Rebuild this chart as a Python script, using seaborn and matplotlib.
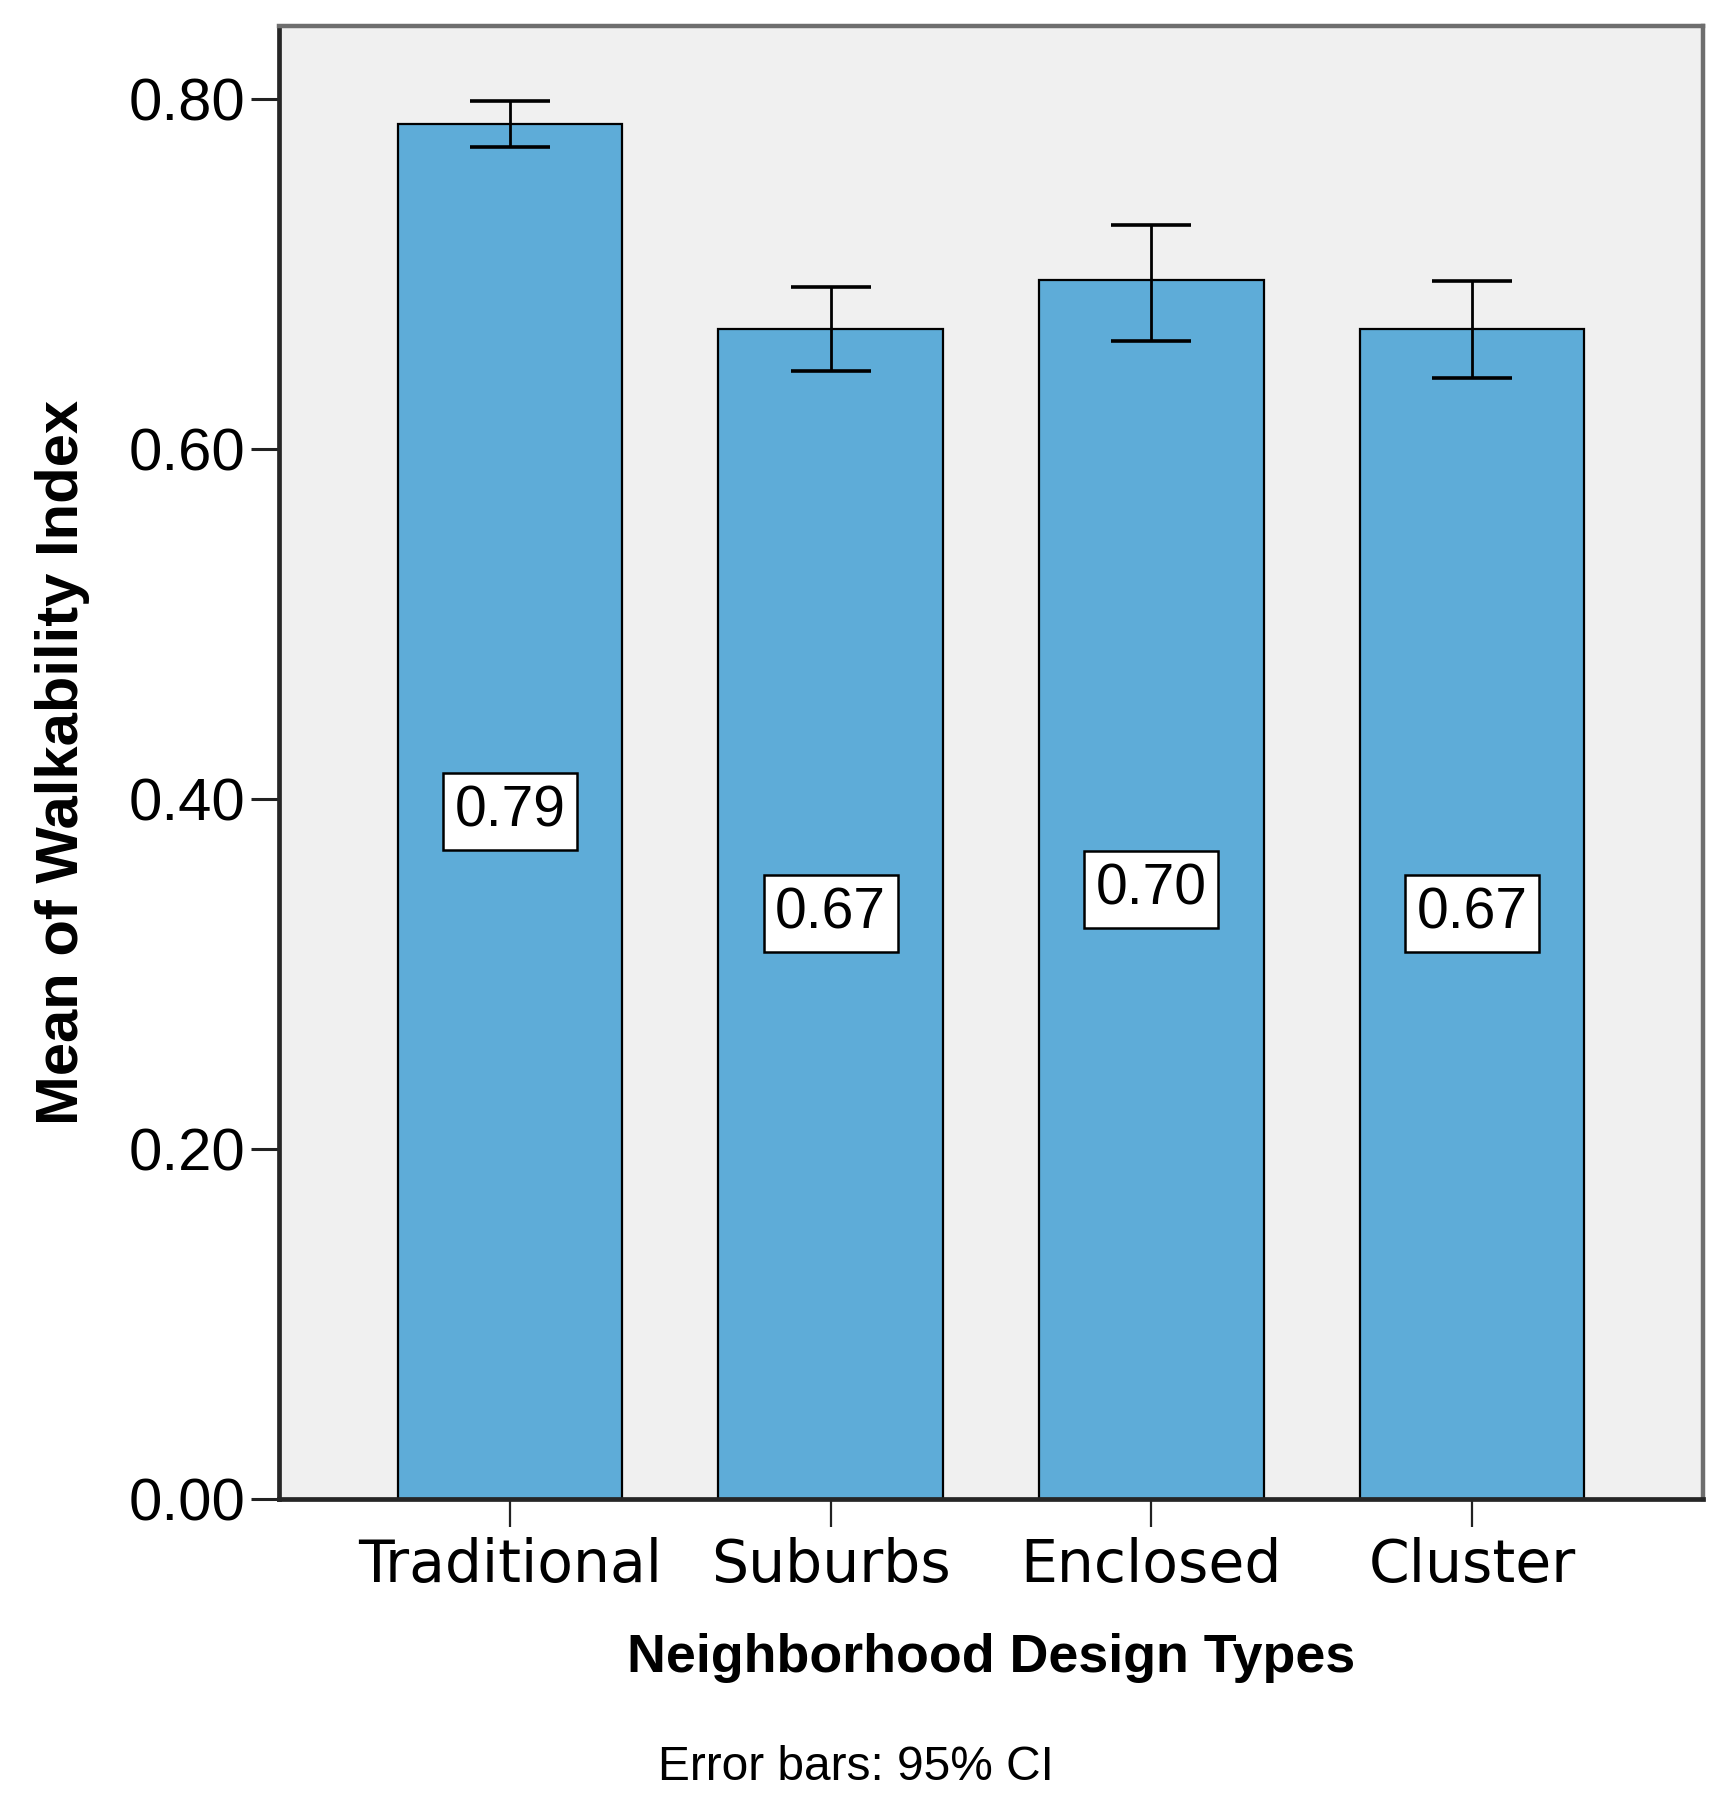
import matplotlib
matplotlib.use("Agg")
import matplotlib.pyplot as plt
import seaborn as sns
import numpy as np
import pandas as pd

# ---- data ----
categories = ["Traditional", "Suburbs", "Enclosed", "Cluster"]
means = [0.786, 0.669, 0.697, 0.669]
ci_low = [0.773, 0.645, 0.662, 0.641]
ci_high = [0.799, 0.693, 0.728, 0.696]
y_ticks = [0.00, 0.20, 0.40, 0.60, 0.80]

x_title = "Neighborhood Design Types"
y_title = "Mean of Walkability Index"
footnote = "Error bars: 95% CI"

df = pd.DataFrame({"type": categories, "mean": means})

sns.set_style("white")
plt.rcParams["font.family"] = ["Liberation Sans", "DejaVu Sans"]
plt.rcParams["text.color"] = "black"
plt.rcParams["axes.labelcolor"] = "black"
plt.rcParams["xtick.color"] = "black"
plt.rcParams["ytick.color"] = "black"

W, H = 1730, 1801
L, R, T, B = 279, 1703, 26, 1499
fig = plt.figure(figsize=(W / 100, H / 100), dpi=100)
ax = fig.add_axes([L / W, 1 - B / H, (R - L) / W, (B - T) / H])
ax.set_facecolor("#F0F0F0")

bar_color = "#5EACD8"
sns.barplot(data=df, x="type", y="mean", color=bar_color, saturation=1,
            width=0.70, edgecolor="black", linewidth=1.6, errorbar=None, ax=ax)

xpos = np.arange(len(categories))
m = np.array(means)
yerr = np.vstack([m - np.array(ci_low), np.array(ci_high) - m])
ax.errorbar(xpos, m, yerr=yerr, fmt="none", ecolor="black", elinewidth=2.0,
            capsize=28.5, capthick=2.6, zorder=5)

# value labels
for xi, v in zip(xpos, means):
    ax.text(xi, v / 2, f"{v:.2f}", ha="center", va="center", fontsize=41,
            family=["Liberation Sans", "DejaVu Sans"], color="black", zorder=6,
            bbox=dict(boxstyle="square,pad=0.2", facecolor="white",
                      edgecolor="black", linewidth=1.8))

ax.set_xlim(-0.72, 3.72)
ax.set_ylim(0, 0.842)
ax.set_yticks(y_ticks)
ax.set_yticklabels([f"{t:.2f}" for t in y_ticks])

ax.tick_params(axis="y", direction="out", length=20, width=2.2, pad=4,
               labelsize=43, color="#222222", labelcolor="black", left=True)
ax.tick_params(axis="x", direction="out", length=20, width=1.6, pad=7,
               labelsize=42, color="#222222", labelcolor="black", bottom=True)
for lab in ax.get_xticklabels():
    lab.set_family(["DejaVu Sans"])

for side in ["left", "bottom"]:
    ax.spines[side].set_color("#262626")
    ax.spines[side].set_linewidth(3.4)
for side in ["top", "right"]:
    ax.spines[side].set_color("#6E6E6E")
    ax.spines[side].set_linewidth(3.2)
    ax.spines[side].set_visible(True)

ax.set_xlabel(x_title, fontsize=38.7, fontweight="bold", color="black",
              family=["Liberation Sans", "DejaVu Sans"])
ax.set_ylabel(y_title, fontsize=43, fontweight="bold", color="black",
              family=["Liberation Sans", "DejaVu Sans"])
ax.xaxis.set_label_coords(0.5, (B - 1633) / (B - T))
ax.yaxis.set_label_coords((90 - L) / (R - L), 0.5)

fig.text(856 / W, 1 - 1780 / H, footnote, ha="center", va="baseline",
         fontsize=34.5, color="black", family=["Liberation Sans", "DejaVu Sans"])

fig.savefig("out.png", dpi=100, facecolor="white")
